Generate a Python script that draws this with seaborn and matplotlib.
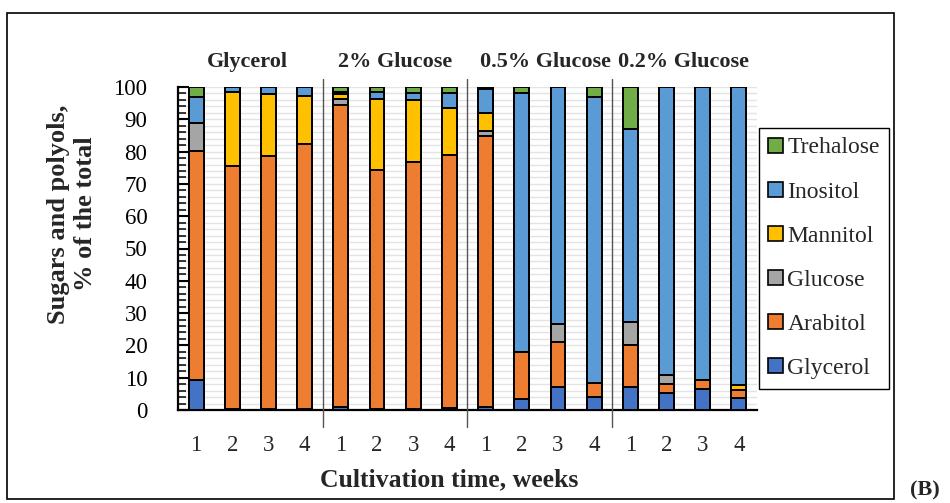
import numpy as np
import pandas as pd
import matplotlib
matplotlib.use("Agg")
import matplotlib.pyplot as plt
from matplotlib.patches import Rectangle, Patch
from matplotlib.ticker import MultipleLocator
import seaborn as sns

# ---- data ----
groups = ["Glycerol", "2% Glucose", "0.5% Glucose", "0.2% Glucose"]
weeks = ["1", "2", "3", "4"]
compounds = ["Glycerol", "Arabitol", "Glucose", "Mannitol", "Inositol", "Trehalose"]
colors = ["#4472C4", "#ED7D31", "#A5A5A5", "#FFC000", "#5B9BD5", "#70AD47"]

# values per bar (16 bars: 4 media x 4 weeks), % of total
glycerol_v  = [9.3, 0.3, 0.2, 0.2,   1.0, 0.3, 0.2, 0.5,   1.0, 3.5, 7.0, 4.0,   7.0, 5.2, 6.6, 3.8]
arabitol_v  = [71.0, 75.2, 78.4, 82.0, 93.3, 73.9, 76.7, 78.6, 83.8, 14.4, 14.0, 4.4, 13.1, 3.0, 2.6, 2.3]
glucose_v   = [8.7, 0.0, 0.0, 0.0,   2.0, 0.0, 0.0, 0.0,   1.6, 0.0, 5.5, 0.0,   7.1, 2.7, 0.0, 0.0]
mannitol_v  = [0.0, 23.0, 19.2, 15.1, 1.4, 22.1, 19.1, 14.3, 5.6, 0.0, 0.0, 0.0,  0.0, 0.0, 0.0, 1.7]
inositol_v  = [8.0, 1.5, 2.2, 2.7,   0.8, 2.2, 2.2, 4.7,   7.5, 80.2, 73.5, 88.6, 59.7, 89.1, 90.8, 92.2]
trehalose_v = [3.0, 0.0, 0.0, 0.0,   1.5, 1.5, 1.8, 1.9,   0.5, 1.9, 0.0, 3.0,   13.1, 0.0, 0.0, 0.0]

series = [glycerol_v, arabitol_v, glucose_v, mannitol_v, inositol_v, trehalose_v]

# ---- build long table ----
pos = np.arange(len(groups) * len(weeks))
vals = np.array(series)
cum = np.cumsum(vals, axis=0)
rows = []
for ci, comp in enumerate(compounds):
    for p in pos:
        rows.append({"pos": int(p), "compound": comp, "cum": cum[ci, p]})
df = pd.DataFrame(rows)

sns.set_theme(style="white")
plt.rcParams["font.family"] = ["Liberation Serif", "DejaVu Serif"]

fig = plt.figure(figsize=(9.5, 5.03), dpi=100)
ax = fig.add_axes([178 / 950, 1 - 410 / 503, (757 - 178) / 950, (410 - 87) / 503])

# draw stacked bars as overlapping cumulative bars, top-most first
for ci in range(len(compounds) - 1, -1, -1):
    sub = df[df["compound"] == compounds[ci]]
    sns.barplot(data=sub, x="pos", y="cum", order=list(pos), color=colors[ci],
                edgecolor="black", linewidth=1.4, width=0.41, errorbar=None,
                saturation=1, ax=ax, zorder=3)

ax.set_xlim(-0.5, 15.5)
ax.set_ylim(0, 100)
ax.yaxis.set_major_locator(MultipleLocator(10))
ax.yaxis.set_minor_locator(MultipleLocator(2))
ax.grid(True, which="both", axis="y", color="#e3e3e3", linewidth=1.0, zorder=0)
ax.set_axisbelow(True)
ax.tick_params(axis="y", which="major", direction="in", length=8, width=1.5,
               labelsize=16.5, left=True, pad=22, colors="black")
ax.tick_params(axis="y", which="minor", direction="in", length=6, width=1.3, left=True)
ax.set_xticks(pos)
ax.set_xticklabels(weeks * len(groups), fontsize=16.5)
ax.tick_params(axis="x", length=0, pad=18)

for s in ["top", "right"]:
    ax.spines[s].set_visible(False)
ax.spines["left"].set_color("black")
ax.spines["left"].set_linewidth(1.6)
ax.spines["bottom"].set_color("black")
ax.spines["bottom"].set_linewidth(1.6)

ax.set_xlabel("Cultivation time, weeks", fontsize=18.5, fontweight="bold")
ax.xaxis.set_label_coords((449 - 178) / (757 - 178), -(468 - 410) / (410 - 87))
ax.set_ylabel("Sugars and polyols,\n% of the total", fontsize=19, fontweight="bold",
              linespacing=1.25)
ax.yaxis.set_label_coords((97 - 178) / (757 - 178), (410 - 214) / (410 - 87))

# group separators and titles
for b in [3.5, 7.5, 11.5]:
    ax.plot([b, b], [-5.3, 102.5], color="#555555", linewidth=1.0, clip_on=False, zorder=4)
title_x = [1.41, 5.5, 9.66, 13.48]
for gx, g in zip(title_x, groups):
    ax.text(gx, 107.7, g, ha="center", va="center", fontsize=16, fontweight="bold")

# legend (reversed order)
handles = [Patch(facecolor=colors[i], edgecolor="black", linewidth=1.2, label=compounds[i])
           for i in range(len(compounds) - 1, -1, -1)]
leg = fig.legend(handles=handles, loc="upper left",
                 bbox_to_anchor=(759 / 950, 1 - 128 / 503), fontsize=17,
                 frameon=True, fancybox=False, edgecolor="black", framealpha=1,
                 handlelength=0.6, handleheight=0.6, handletextpad=0.2,
                 labelspacing=0.98, borderpad=0.4, borderaxespad=0)
leg.get_frame().set_linewidth(1.0)

# outer frame
fig.patches.append(Rectangle((7 / 950, 4.5 / 503), (894 - 7) / 950, (490 - 4.5) / 503,
                             transform=fig.transFigure, fill=False,
                             edgecolor="black", linewidth=1.2))
fig.text(925 / 950, 1 - 490 / 503, "(B)", ha="center", va="center",
         fontsize=16, fontweight="bold")

fig.savefig("out.png", dpi=100)
